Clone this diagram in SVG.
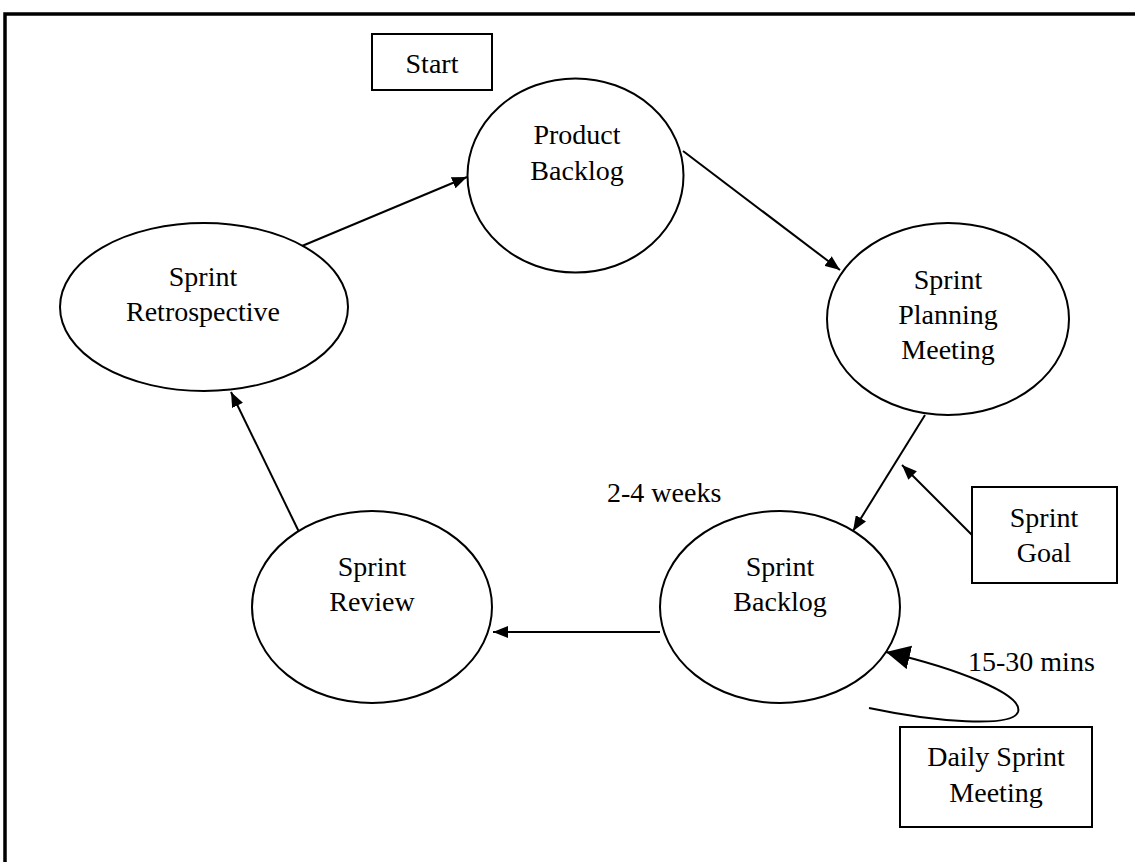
<svg xmlns="http://www.w3.org/2000/svg" width="1135" height="862" viewBox="0 0 1135 862">
<defs>
<style>
.n{fill:#fff;stroke:#000;stroke-width:2}
.t{font-family:"Liberation Serif","Times New Roman",serif;font-size:28px;fill:#000;text-anchor:middle}
.l{font-family:"Liberation Serif","Times New Roman",serif;font-size:28px;fill:#000}
.c{fill:none;stroke:#000;stroke-width:2}
</style>
<marker id="a" markerUnits="userSpaceOnUse" markerWidth="16" markerHeight="12" refX="15" refY="6" orient="auto"><path d="M0,0 L15,6 L0,12 z" fill="#000"/></marker>
<marker id="b" markerUnits="userSpaceOnUse" markerWidth="26" markerHeight="26" refX="24" refY="12" orient="auto"><path d="M0,0 L24,12 L0,24 z" fill="#000"/></marker>
</defs>
<rect width="1135" height="862" fill="#fff"/>
<path d="M5,862 V14 H1135" fill="none" stroke="#000" stroke-width="3.5"/>
<g id="connectors">
<line class="c" x1="302" y1="246" x2="467" y2="177" marker-end="url(#a)"/>
<line class="c" x1="683" y1="151" x2="840" y2="270" marker-end="url(#a)"/>
<line class="c" x1="925" y1="415" x2="853" y2="531" marker-end="url(#a)"/>
<line class="c" x1="972" y1="535" x2="902" y2="465" marker-end="url(#a)"/>
<line class="c" x1="660" y1="632" x2="493" y2="632" marker-end="url(#a)"/>
<line class="c" x1="300" y1="534" x2="231" y2="392" marker-end="url(#a)"/>
<path class="c" d="M869,708 C935,722 1012,728 1018,712 C1024,694 955,668 886,652" marker-end="url(#b)"/>
</g>
<g id="start"><rect class="n" x="372" y="34" width="120" height="56"/><text class="t" x="432" y="73">Start</text></g>
<g id="product-backlog"><ellipse class="n" cx="575.5" cy="175.5" rx="108" ry="97"/><text class="t" x="577" y="144">Product</text><text class="t" x="577" y="180">Backlog</text></g>
<g id="sprint-retrospective"><ellipse class="n" cx="204" cy="307" rx="144" ry="84"/><text class="t" x="203" y="286">Sprint</text><text class="t" x="203" y="321">Retrospective</text></g>
<g id="sprint-planning"><ellipse class="n" cx="948" cy="319" rx="121" ry="96"/><text class="t" x="948" y="289">Sprint</text><text class="t" x="948" y="324">Planning</text><text class="t" x="948" y="359">Meeting</text></g>
<g id="sprint-backlog"><ellipse class="n" cx="780" cy="607" rx="120" ry="96"/><text class="t" x="780" y="576">Sprint</text><text class="t" x="780" y="611">Backlog</text></g>
<g id="sprint-review"><ellipse class="n" cx="372" cy="607" rx="120" ry="96"/><text class="t" x="372" y="576">Sprint</text><text class="t" x="372" y="611">Review</text></g>
<g id="sprint-goal"><rect class="n" x="972" y="487" width="145" height="96"/><text class="t" x="1044" y="527">Sprint</text><text class="t" x="1044" y="562">Goal</text></g>
<g id="daily-sprint-meeting"><rect class="n" x="900" y="727" width="192" height="100"/><text class="t" x="996" y="766">Daily Sprint</text><text class="t" x="996" y="802">Meeting</text></g>
<g id="labels"><text class="l" x="607" y="502">2-4 weeks</text><text class="l" x="968" y="671">15-30 mins</text></g>
</svg>
